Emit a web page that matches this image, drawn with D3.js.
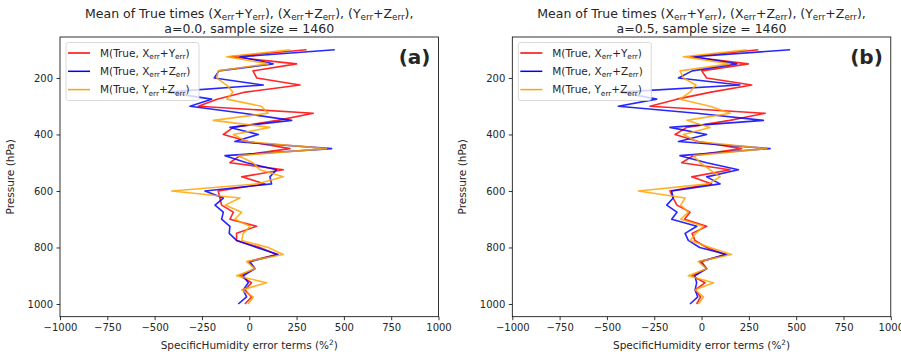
<!DOCTYPE html>
<html><head><meta charset="utf-8">
<script src="https://cdn.jsdelivr.net/npm/d3@7"></script>
<style>
body{margin:0;background:#fff}
svg{display:block}
text{font-family:"DejaVu Sans",sans-serif;fill:#262626}
</style>
</head><body>
<svg id="c" width="901" height="357"></svg>
<script>
// ---------- data ----------
const pressureLevels = [100,125,150,175,200,225,250,275,300,325,350,375,400,425,450,475,500,525,550,575,600,625,650,675,700,725,750,775,800,825,850,875,900,925,950,975,1000];
const xTicks = [-1000,-750,-500,-250,0,250,500,750,1000];
const yTicks = [200,400,600,800,1000];
const seriesTerms = [["X","Y"],["X","Z"],["Y","Z"]];
const seriesColors = ["red","blue","orange"];
const panelLabels = ["(a)","(b)"];
const aValues = ["0.0","0.5"];
const sampleSize = 1460;

// panel (a), a=0.0
const a_XY = [303,-102,250,20,39,268,-20,-170,-269,338,150,-84,-137,-5,215,-49,-102,180,-40,83,-164,-155,-146,-84,-102,39,-67,-67,56,144,-5,30,-49,12,-23,12,-23];
const a_XZ = [452,-49,126,-160,-185,74,-440,-199,-313,-32,224,-102,48,-76,435,-128,-14,144,109,118,-234,-137,-181,-137,-146,-102,-106,-67,39,153,4,30,-32,-5,-32,-14,-58];
const a_YZ = [215,-120,100,-164,-172,-120,-86,-119,64,100,-190,109,-84,-14,408,-58,20,56,180,39,-410,-49,-128,-40,-76,4,-32,-40,100,180,-14,30,-67,92,-40,21,-5];
// panel (b), a=0.5
const b_XY = [300,-60,247,1,27,265,50,-130,-272,336,150,-78,-140,-17,212,-43,-105,151,-52,54,-167,-150,-130,-61,-90,27,-50,-35,27,124,0,27,-50,18,-34,-5,-26];
const b_XZ = [468,-40,186,-50,-122,203,-430,-237,-440,-26,327,-167,27,-122,362,-114,27,195,27,98,-158,-150,-184,-130,-158,-25,-87,-70,-10,133,-10,27,-35,-26,-34,-20,-61];
const b_YZ = [239,-96,150,-114,-96,-30,-61,-114,45,151,-78,45,-96,-26,344,-43,-8,45,98,36,-334,-87,-110,-70,-110,10,-30,-60,45,159,-17,27,-70,63,-34,10,-17];

const panelSeries = [[a_XY,a_XZ,a_YZ],[b_XY,b_XZ,b_YZ]];

// ---------- drawing ----------
const svg = d3.select("#c");
const panelLeft = [60, 512.3];
const plotW = 378.5, plotTop = 37, plotBottom = 316.7;

panelSeries.forEach((series, pi)=>{
  const left = panelLeft[pi];
  const x = d3.scaleLinear().domain([-1000,1000]).range([left, left+plotW]);
  const y = d3.scaleLinear().domain([55,1045]).range([plotTop, plotBottom]);
  const g = svg.append("g");

  const xAxis = g.append("g").attr("transform",`translate(0,${plotBottom})`)
    .call(d3.axisBottom(x).tickValues(xTicks).tickSize(3.5).tickPadding(3.5).tickFormat(d3.format("d")));
  const yAxis = g.append("g").attr("transform",`translate(${left},0)`)
    .call(d3.axisLeft(y).tickValues(yTicks).tickSize(3.5).tickPadding(3.5).tickFormat(d3.format("d")));
  [xAxis,yAxis].forEach(a=>{
    a.select(".domain").remove();
    a.selectAll(".tick line").attr("stroke","#000").attr("stroke-width",0.8);
    a.selectAll(".tick text").attr("font-size",10).attr("fill","#262626")
      .style("font-family","DejaVu Sans, sans-serif");
  });

  // lines
  const line = d3.line().x(d=>x(d[0])).y(d=>y(d[1]));
  series.forEach((vals, si)=>{
    const pts = vals.map((v,i)=>[v, pressureLevels[i]]);
    g.append("path").attr("d", line(pts)).attr("fill","none")
      .attr("stroke", seriesColors[si]).attr("stroke-width",1.6)
      .attr("stroke-opacity",0.85).attr("stroke-linejoin","round");
  });

  // frame
  g.append("rect").attr("x",left).attr("y",plotTop).attr("width",plotW).attr("height",plotBottom-plotTop)
    .attr("fill","none").attr("stroke","#000").attr("stroke-width",0.8);

  // legend
  const lg = g.append("g").attr("transform",`translate(${left+6},${plotTop+5.5})`);
  lg.append("rect").attr("width",133).attr("height",58).attr("rx",2.5)
    .attr("fill","rgba(255,255,255,0.8)").attr("stroke","#d0d0d0").attr("stroke-width",0.8);
  seriesTerms.forEach((tm, si)=>{
    const yy = 10.5 + si*18.3;
    lg.append("line").attr("x1",2).attr("x2",24).attr("y1",yy).attr("y2",yy)
      .attr("stroke",seriesColors[si]).attr("stroke-width",1.5);
    const t = lg.append("text").attr("x",34).attr("y",yy+3.7).attr("font-size",10.5);
    t.append("tspan").text("M(True, " + tm[0]);
    t.append("tspan").text("err").attr("font-size",7.4).attr("dy",2.2);
    t.append("tspan").text("+" + tm[1]).attr("dy",-2.2);
    t.append("tspan").text("err").attr("font-size",7.4).attr("dy",2.2);
    t.append("tspan").text(")").attr("dy",-2.2);
  });

  // panel label
  g.append("text").attr("x",left+plotW-8).attr("y",plotTop+27).attr("text-anchor","end")
    .attr("font-size",20).attr("font-weight","bold").attr("fill","#000").text(panelLabels[pi]);

  // title
  const cx = left + plotW/2;
  const t1 = g.append("text").attr("x",cx).attr("y",18).attr("text-anchor","middle").attr("font-size",12.5);
  t1.append("tspan").text("Mean of True times (X");
  seriesTerms.forEach((tm,k)=>{
    if(k>0){ t1.append("tspan").text(", (" + tm[0]); }
    t1.append("tspan").text("err").attr("font-size",8.8).attr("dy",2.3);
    t1.append("tspan").text("+" + tm[1]).attr("dy",-2.3);
    t1.append("tspan").text("err").attr("font-size",8.8).attr("dy",2.3);
    t1.append("tspan").text(")").attr("dy",-2.3);
  });
  t1.append("tspan").text(",");
  g.append("text").attr("x",cx).attr("y",33).attr("text-anchor","middle").attr("font-size",12.5)
    .text(`a=${aValues[pi]}, sample size = ${sampleSize}`);

  // axis labels
  const xl = g.append("text").attr("x",cx).attr("y",349).attr("text-anchor","middle").attr("font-size",10.5);
  xl.append("tspan").text("SpecificHumidity error terms (%");
  xl.append("tspan").text("2").attr("font-size",7.3).attr("dy",-4);
  xl.append("tspan").text(")").attr("dy",4);
  g.append("text").attr("transform",`translate(${left-46},${(plotTop+plotBottom)/2}) rotate(-90)`)
    .attr("text-anchor","middle").attr("font-size",10.5).text("Pressure (hPa)");
});
</script>
</body></html>
